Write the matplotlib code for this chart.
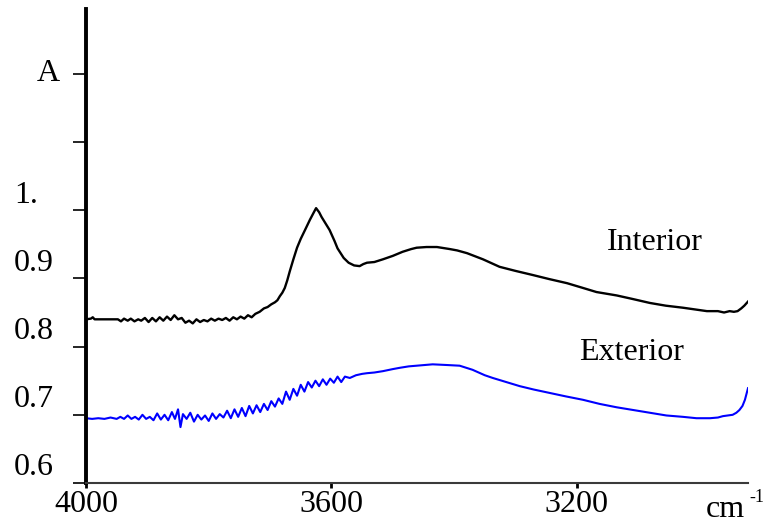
import matplotlib
matplotlib.use("Agg")
import matplotlib.pyplot as plt
import matplotlib.transforms as mtransforms

plt.rcParams['font.family'] = ['Liberation Serif', 'DejaVu Serif']

# Interior spectrum (wavenumber, absorbance)
interior_wn = [4000, 3992, 3989, 3986, 3948, 3943, 3938, 3932, 3927, 3921, 3915, 3910, 3904, 3898,
               3892, 3886, 3880, 3874, 3868, 3862, 3856, 3850, 3844, 3838, 3832, 3826, 3820, 3814,
               3808, 3802, 3796, 3790, 3784, 3778, 3772, 3766, 3760, 3754, 3748, 3742, 3736, 3730,
               3724, 3717, 3710, 3704, 3698, 3692, 3688, 3684, 3680, 3676, 3672, 3668, 3662, 3656,
               3650, 3643, 3635, 3628, 3625, 3620, 3616, 3603, 3595, 3590, 3580, 3572, 3563, 3554,
               3548, 3542, 3530, 3516, 3500, 3484, 3470, 3461, 3445, 3428, 3407, 3395, 3379, 3353,
               3326, 3300, 3272, 3245, 3216, 3190, 3168, 3135, 3110, 3081, 3055, 3027, 2988, 2970,
               2960, 2951, 2944, 2938, 2932, 2927, 2921]
interior_a = [0.840, 0.841, 0.843, 0.840, 0.840, 0.837, 0.841, 0.838, 0.841, 0.837, 0.840, 0.838, 0.842, 0.836,
              0.842, 0.837, 0.843, 0.838, 0.844, 0.839, 0.846, 0.840, 0.842, 0.835, 0.838, 0.834, 0.840, 0.836,
              0.839, 0.837, 0.841, 0.838, 0.841, 0.839, 0.842, 0.838, 0.843, 0.840, 0.844, 0.841, 0.846, 0.843,
              0.848, 0.851, 0.856, 0.858, 0.862, 0.865, 0.868, 0.874, 0.879, 0.886, 0.897, 0.910, 0.928, 0.945,
              0.958, 0.971, 0.986, 0.998, 1.003, 0.997, 0.990, 0.971, 0.955, 0.944, 0.930, 0.923, 0.919, 0.918,
              0.921, 0.923, 0.924, 0.928, 0.933, 0.939, 0.943, 0.945, 0.946, 0.946, 0.943, 0.941, 0.937, 0.928,
              0.917, 0.911, 0.905, 0.899, 0.893, 0.886, 0.880, 0.875, 0.870, 0.864, 0.860, 0.857, 0.852, 0.852,
              0.850, 0.852, 0.851, 0.852, 0.856, 0.860, 0.866]

# Exterior spectrum
exterior_wn = [4000, 3990, 3980, 3970, 3960, 3950, 3944, 3938, 3932, 3926, 3920, 3914, 3908, 3902,
               3896, 3890, 3884, 3878, 3872, 3866, 3860, 3855, 3850, 3846, 3842, 3836, 3830, 3824,
               3818, 3812, 3806, 3800, 3794, 3788, 3782, 3776, 3770, 3764, 3758, 3752, 3746, 3740,
               3734, 3728, 3722, 3716, 3710, 3704, 3698, 3692, 3686, 3680, 3674, 3668, 3662, 3656,
               3650, 3644, 3638, 3632, 3626, 3620, 3614, 3608, 3602, 3596, 3590, 3584, 3578, 3570,
               3560, 3550, 3542, 3530, 3516, 3500, 3488, 3474, 3461, 3448, 3435, 3412, 3391, 3370,
               3350, 3337, 3315, 3293, 3270, 3244, 3218, 3190, 3163, 3135, 3108, 3081, 3054, 3027,
               3005, 2983, 2970, 2962, 2946, 2940, 2935, 2930, 2926, 2921]
exterior_a = [0.695, 0.694, 0.695, 0.694, 0.696, 0.694, 0.697, 0.694, 0.699, 0.694, 0.697, 0.693, 0.700, 0.694,
              0.697, 0.692, 0.702, 0.693, 0.700, 0.692, 0.704, 0.694, 0.708, 0.682, 0.701, 0.694, 0.703, 0.690,
              0.700, 0.693, 0.699, 0.691, 0.702, 0.694, 0.701, 0.696, 0.706, 0.695, 0.708, 0.697, 0.710, 0.698,
              0.713, 0.702, 0.714, 0.704, 0.716, 0.707, 0.720, 0.712, 0.724, 0.716, 0.734, 0.722, 0.738, 0.728,
              0.744, 0.734, 0.748, 0.740, 0.750, 0.742, 0.752, 0.744, 0.753, 0.747, 0.756, 0.748, 0.756, 0.754,
              0.758, 0.760, 0.761, 0.762, 0.764, 0.767, 0.769, 0.771, 0.772, 0.773, 0.774, 0.773, 0.772, 0.766,
              0.758, 0.754, 0.748, 0.742, 0.737, 0.732, 0.727, 0.722, 0.716, 0.711, 0.707, 0.703, 0.699, 0.697,
              0.695, 0.695, 0.696, 0.698, 0.700, 0.703, 0.707, 0.713, 0.722, 0.739]

x_ticks = [4000, 3600, 3200]
x_tick_labels = ["4000", "3600", "3200"]
y_ticks = [0.6, 0.7, 0.8, 0.9, 1.0, 1.1, 1.2]
y_label_texts = ["0.6", "0.7", "0.8", "0.9", "1.", "A"]
y_label_pos = [0.6, 0.7, 0.8, 0.9, 1.0, 1.2]

W, H = 765, 523
fig = plt.figure(figsize=(W / 100, H / 100), dpi=100)
ax = fig.add_axes([86 / W, 1 - 483 / H, (748 - 86) / W, (483 - 9) / H])

ax.plot(interior_wn, interior_a, color='black', lw=1.7)
ax.plot(exterior_wn, exterior_a, color='#0000ff', lw=1.5)

ax.set_xlim(4000, 2921)
ax.set_ylim(0.6, 1.295)

for s in ['top', 'right']:
    ax.spines[s].set_visible(False)
ax.spines['left'].set_linewidth(2.8)
ax.spines['left'].set_color('black')
ax.spines['bottom'].set_linewidth(1.5)
ax.spines['bottom'].set_color('#3a3a3a')

ax.set_yticks(y_ticks)
ax.set_yticklabels([])
ax.tick_params(axis='y', direction='out', length=9.5, width=1.2, color='black')
ax.set_xticks(x_ticks)
ax.set_xticklabels(x_tick_labels, fontsize=23)
ax.tick_params(axis='x', direction='out', length=3.5, width=2, color='black', pad=1.5)

# numeric y labels sit slightly above their ticks
trans = mtransforms.blended_transform_factory(fig.transFigure, ax.transData)
for txt, v in zip(y_label_texts, y_label_pos):
    if txt == "A":
        xpos, off = 37 / W, 0.0
    else:
        xpos, off = 14 / W, 0.022
    ax.text(xpos, v + off, txt, transform=trans, fontsize=23, ha='left', va='center',
            clip_on=False)

ax.text(3073, 0.952, "Interior", fontsize=23, ha='center', va='center')
ax.text(3111, 0.791, "Exterior", fontsize=23, ha='center', va='center')

fig.text(706 / W, 1 - 517 / H, "cm", fontsize=23, ha='left', va='baseline')
fig.text(749 / W, 1 - 502 / H, "-1", fontsize=13, ha='left', va='baseline')

fig.savefig("out.png", dpi=100)
